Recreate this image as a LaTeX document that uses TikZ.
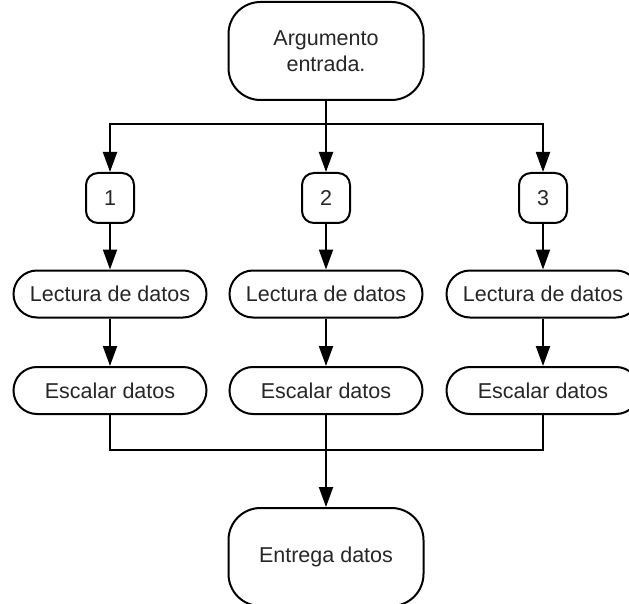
\documentclass[tikz,border=0pt]{standalone}
\usepackage{fontspec}
\setmainfont{Liberation Sans}
\usetikzlibrary{arrows.meta}

\tikzset{
  base/.style={draw=black, line width=2pt, text=black!85, inner sep=0pt,
    font=\fontsize{21.5}{26}\selectfont},
  terminal/.style={base, rectangle, rounded corners=32pt,
    minimum width=195pt, minimum height=98pt, align=center},
  numbox/.style={base, rectangle, rounded corners=12pt,
    minimum width=48pt, minimum height=50pt},
  process/.style={base, rectangle, rounded corners=23.5pt,
    minimum width=193pt, minimum height=47pt},
  flow/.style={line width=2pt, draw=black},
  arrow/.style={flow, -{Triangle[length=20pt,width=14pt]}},
}

\begin{document}
\begin{tikzpicture}[x=1pt, y=-1pt]
  \useasboundingbox (0,0) rectangle (629,604);
  \begin{scope}
  \clip (0,0) rectangle (629,604);

  % start and end
  \node[terminal] (start) at (326,51) {Argumento\\entrada.};
  \node[terminal] (finish) at (326,557) {Entrega datos};

  % three parallel branches
  \foreach \i/\x in {1/110, 2/326, 3/543} {
    \node[numbox]  (n\i) at (\x,198)   {\i};
    \node[process] (r\i) at (\x,294)   {Lectura de datos};
    \node[process] (s\i) at (\x,390.5) {Escalar datos};
    \draw[arrow] (n\i) -- (r\i);
    \draw[arrow] (r\i) -- (s\i);
  }

  % fan-out
  \coordinate (split) at (326,124);
  \draw[flow] (start) -- (split);
  \draw[arrow] (split) -| (n1);
  \draw[arrow] (split) -- (n2);
  \draw[arrow] (split) -| (n3);

  % fan-in
  \coordinate (join) at (326,450);
  \draw[flow] (s1) |- (join);
  \draw[flow] (s3) |- (join);
  \draw[arrow] (s2) -- (finish);
  \end{scope}
\end{tikzpicture}
\end{document}
